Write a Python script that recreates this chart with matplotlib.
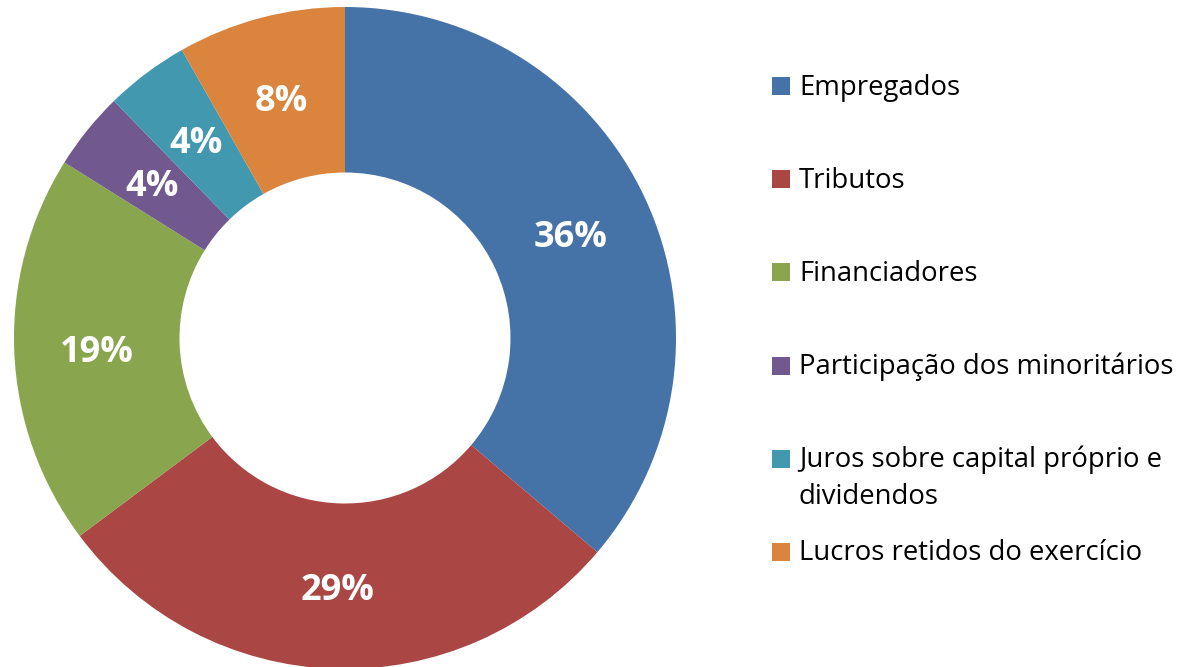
import matplotlib
matplotlib.use('Agg')
import matplotlib.pyplot as plt
from matplotlib.patches import Rectangle

# dados
categorias = ['Empregados', 'Tributos', 'Financiadores', 'Participação dos minoritários',
              'Juros sobre capital próprio e\ndividendos', 'Lucros retidos do exercício']
valores = [36.2, 28.6, 19.1, 3.8, 4.1, 8.2]
cores = ['#4572A7', '#AA4643', '#89A54E', '#71588F', '#4198AF', '#DB843D']

W, H = 1183, 667
fig = plt.figure(figsize=(W / 100, H / 100), dpi=100)
fonte = 'Open Sans'

# donut
cx, cy, r = 345, 329, 331
ax = fig.add_axes([(cx - r) / W, (cy - r) / H, 2 * r / W, 2 * r / H])
wedges, texts, autotexts = ax.pie(valores, colors=cores, startangle=90, counterclock=False,
                                  radius=1, autopct='%.0f%%', pctdistance=0.75,
                                  wedgeprops=dict(width=0.5, linewidth=0))
for t in autotexts:
    t.set_color('white')
    t.set_fontsize(26)
    t.set_fontweight('bold')
    t.set_family(fonte)
    t.set_va('center_baseline')
ax.set_xlim(-1, 1)
ax.set_ylim(-1, 1)
ax.axis('off')

# legenda
y0, dy = 86, 93.2
for i, (lab, c) in enumerate(zip(categorias, cores)):
    y = y0 + i * dy
    fig.patches.append(Rectangle((772 / W, (H - y - 9) / H), 18 / W, 18 / H,
                                 transform=fig.transFigure, color=c, linewidth=0))
    for j, linha in enumerate(lab.split('\n')):
        fig.text(799 / W, (H - y - 8.5 - 37 * j) / H, linha, fontsize=19.8, family=fonte,
                 va='baseline', ha='left')

fig.savefig('out.png', dpi=100)
